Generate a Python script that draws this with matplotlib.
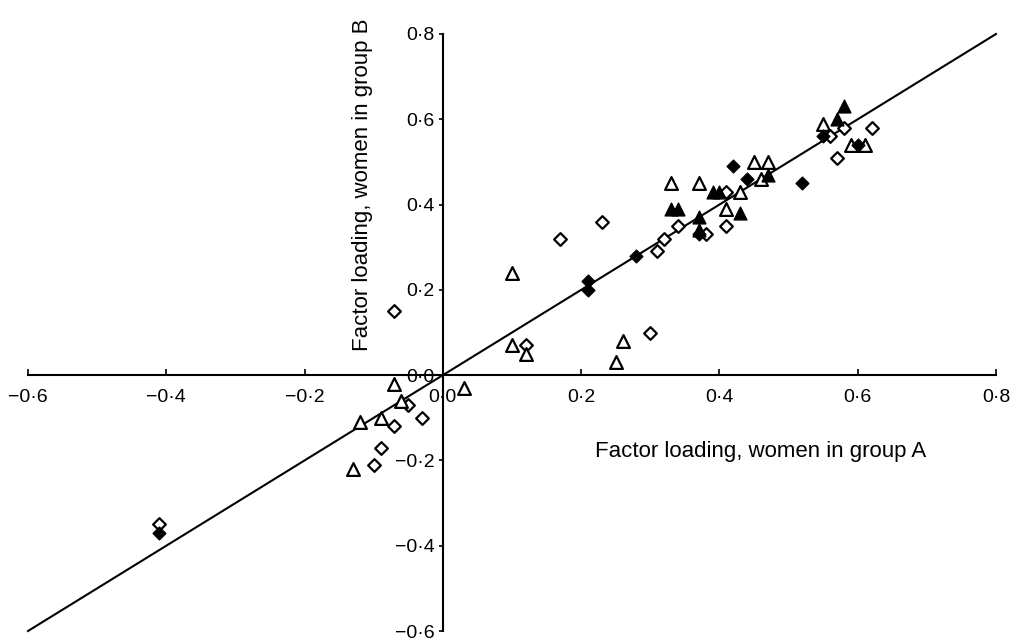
import numpy as np
from matplotlib import pyplot as plt
import matplotlib
matplotlib.rcParams['font.family'] = ['Liberation Sans', 'DejaVu Sans']

# 数据
open_diamond_x = [-0.41, -0.07, -0.05, -0.03, -0.07, -0.09, -0.10, 0.12, 0.17, 0.23, 0.30,
                  0.31, 0.32, 0.34, 0.38, 0.41, 0.41, 0.56, 0.57, 0.58, 0.62]
open_diamond_y = [-0.35, 0.15, -0.07, -0.10, -0.12, -0.17, -0.21, 0.07, 0.32, 0.36, 0.10,
                  0.29, 0.32, 0.35, 0.33, 0.43, 0.35, 0.56, 0.51, 0.58, 0.58]

filled_diamond_x = [-0.41, 0.21, 0.21, 0.28, 0.37, 0.42, 0.44, 0.52, 0.55, 0.60]
filled_diamond_y = [-0.37, 0.22, 0.20, 0.28, 0.33, 0.49, 0.46, 0.45, 0.56, 0.54]

open_triangle_x = [-0.07, 0.03, -0.06, -0.09, -0.12, -0.13, 0.10, 0.10, 0.12, 0.26, 0.25,
                   0.33, 0.37, 0.43, 0.41, 0.45, 0.47, 0.46, 0.55, 0.59, 0.61]
open_triangle_y = [-0.02, -0.03, -0.06, -0.10, -0.11, -0.22, 0.24, 0.07, 0.05, 0.08, 0.03,
                   0.45, 0.45, 0.43, 0.39, 0.50, 0.50, 0.46, 0.59, 0.54, 0.54]

filled_triangle_x = [0.33, 0.34, 0.37, 0.37, 0.39, 0.40, 0.43, 0.47, 0.57, 0.58]
filled_triangle_y = [0.39, 0.39, 0.37, 0.34, 0.43, 0.43, 0.38, 0.47, 0.60, 0.63]

ticks = [-0.6, -0.4, -0.2, 0.0, 0.2, 0.4, 0.6, 0.8]


def fmt(v):
    s = f"{abs(v):.1f}".replace('.', '\u00b7')
    return ('\u2212' + s) if v < 0 else s


fig = plt.figure(figsize=(10.18, 6.41), dpi=100)
ax = fig.add_axes([28 / 1018, 10 / 641, 968 / 1018, 597 / 641])
ax.set_xlim(-0.6, 0.8)
ax.set_ylim(-0.6, 0.8)

# y = x 参考线
line_x = np.array([-0.6, 0.8])
ax.plot(line_x, line_x, color='black', lw=1.5, zorder=2, clip_on=False)

ax.scatter(open_diamond_x, open_diamond_y, marker='D', s=42, facecolor='white',
           edgecolor='black', linewidth=1.6, zorder=3, clip_on=False)
ax.scatter(filled_diamond_x, filled_diamond_y, marker='D', s=42, facecolor='black',
           edgecolor='black', linewidth=1.0, zorder=4, clip_on=False)
ax.scatter(open_triangle_x, open_triangle_y, marker='^', s=85, facecolor='white',
           edgecolor='black', linewidth=1.6, zorder=3, clip_on=False)
ax.scatter(filled_triangle_x, filled_triangle_y, marker='^', s=85, facecolor='black',
           edgecolor='black', linewidth=1.0, zorder=4, clip_on=False)

for side in ['top', 'right']:
    ax.spines[side].set_visible(False)
ax.spines['left'].set_position(('data', 0))
ax.spines['bottom'].set_position(('data', 0))
ax.spines['left'].set_linewidth(1.5)
ax.spines['bottom'].set_linewidth(1.5)

ax.set_xticks(ticks)
ax.set_xticklabels([fmt(t) for t in ticks])
ax.set_yticks(ticks)
ax.set_yticklabels([fmt(t) for t in ticks])
ax.tick_params(axis='x', direction='in', length=4, width=1.2, pad=10, labelsize=14)
ax.tick_params(axis='y', direction='out', length=3, width=1.2, pad=3, labelsize=14)

ax.set_xlabel('Factor loading, women in group A', fontsize=16)
ax.xaxis.set_label_coords(0.757, 0.30)
ax.xaxis.label.set_va('center')
ax.set_ylabel('Factor loading, women in group B', fontsize=16)
ax.yaxis.set_label_coords(0.346, 0.747)
ax.yaxis.label.set_va('center')

fig.savefig('out.png', dpi=100)
